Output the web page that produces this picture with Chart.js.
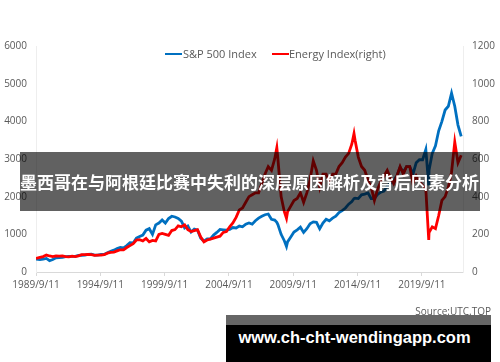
<!DOCTYPE html>
<html>
<head>
<meta charset="utf-8">
<script src="https://cdn.jsdelivr.net/npm/chart.js@4/dist/chart.umd.min.js"></script>
<style>
  body { margin: 0; background: #fff; }
  #wrap { position: relative; width: 500px; height: 362px; overflow: hidden; font-family: "Open Sans", sans-serif; }
  #chart { position: absolute; left: 0; top: 0; }
  .leg { position: absolute; top: 46px; font-size: 11px; color: #595959; white-space: nowrap; }
  .legline { position: absolute; top: 53px; width: 17px; height: 2px; }
  #banner { position: absolute; left: 20px; top: 152px; width: 460px; height: 59px; background: rgba(0,0,0,0.62);
            color: #fff; font: bold 17px "Noto Sans CJK SC", sans-serif; line-height: 59px; white-space: nowrap; }
  #source { position: absolute; right: 9px; top: 304px; font-size: 10px; color: #595959; }
  #mark { position: absolute; left: 226px; top: 315px; width: 265px; height: 47px; background: #000; border-top: 10px solid #666; box-sizing: border-box; }
  #mark span { position: absolute; left: -4px; width: 265px; top: 3px; text-align: center; color: #fff;
               font: bold 16.5px "Liberation Sans", Arial, sans-serif; }
</style>
</head>
<body>
<div id="wrap">
  <canvas id="chart" width="500" height="362"></canvas>
  <div class="legline" style="left:165px;background:#0070C0"></div>
  <div class="leg" style="left:183px">S&amp;P 500 Index</div>
  <div class="legline" style="left:272px;background:#FF0000"></div>
  <div class="leg" style="left:289px">Energy Index(right)</div>
  <div id="banner">墨西哥在与阿根廷比赛中失利的深层原因解析及背后因素分析</div>
  <div id="source">Source:UTC.TOP</div>
  <div id="mark"><span>www.ch-cht-wendingapp.com</span></div>
</div>
<script>
const dates = ['1989-09-11',
  '1990-01','1990-04','1990-07','1990-10', '1991-01','1991-04','1991-07','1991-10',
  '1992-01','1992-04','1992-07','1992-10', '1993-01','1993-04','1993-07','1993-10',
  '1994-01','1994-04','1994-07','1994-10', '1995-01','1995-04','1995-07','1995-10',
  '1996-01','1996-04','1996-07','1996-10', '1997-01','1997-04','1997-07','1997-10',
  '1998-01','1998-04','1998-07','1998-10', '1999-01','1999-04','1999-07','1999-10',
  '2000-01','2000-04','2000-07','2000-10', '2001-01','2001-04','2001-07','2001-10',
  '2002-01','2002-04','2002-07','2002-10', '2003-01','2003-04','2003-07','2003-10',
  '2004-01','2004-04','2004-07','2004-10', '2005-01','2005-04','2005-07','2005-10',
  '2006-01','2006-04','2006-07','2006-10', '2007-01','2007-04','2007-07','2007-10',
  '2008-01','2008-04','2008-06','2008-07','2008-10', '2009-01','2009-03','2009-04','2009-07','2009-10',
  '2010-01','2010-04','2010-07','2010-10', '2011-01','2011-04','2011-07','2011-10',
  '2012-01','2012-04','2012-07','2012-10', '2013-01','2013-04','2013-07','2013-10',
  '2014-01','2014-04','2014-06','2014-07','2014-10', '2015-01','2015-04','2015-07','2015-10',
  '2016-01','2016-04','2016-07','2016-10', '2017-01','2017-04','2017-07','2017-10',
  '2018-01','2018-04','2018-07','2018-10', '2019-01','2019-04','2019-07','2019-10',
  '2020-01','2020-03-23','2020-04','2020-07','2020-10', '2021-01','2021-04','2021-07','2021-10',
  '2022-01','2022-04','2022-07','2022-10'];

const spx = [340,
  330,340,360,300,  330,375,385,390,  410,415,415,415,  440,445,450,465,
  475,450,450,470,  470,510,550,580,  620,650,640,700,  780,770,900,940,
  980,1110,1150,1000,  1250,1300,1380,1300,  1420,1480,1460,1420,  1350,1170,1220,1060,
  1140,1110,900,820,  880,880,980,1050,  1130,1120,1110,1130,  1180,1170,1220,1200,
  1270,1300,1270,1360,  1430,1480,1520,1540,  1400,1380,1320,1260,1000,  830,680,800,930,1060,
  1120,1190,1050,1150,  1280,1330,1320,1150,  1300,1400,1360,1430,  1480,1580,1630,1700,
  1800,1870,1950,1960,1950,  2050,2070,2100,1950,  1950,2060,2120,2150,  2280,2360,2440,2550,
  2780,2650,2800,2800,  2600,2900,2980,2980,  3250,2300,2700,3150,3350,  3750,4000,4300,4400,
  4750,4400,3900,3600];

const energy = [72,
  78,82,90,85,  82,85,84,86,  82,80,84,82,  86,92,92,94,
  92,88,90,90,  92,100,104,106,  112,118,118,130,  140,150,170,172,
  165,178,160,168,  165,200,205,200,  195,220,225,245,  240,250,225,215,
  220,225,185,160,  170,175,180,185,  190,210,215,240,  260,290,330,340,
  370,400,410,420,  420,470,520,560,  540,600,660,600,400,  320,285,320,350,380,
  390,420,370,420,  490,590,540,450,  520,520,480,520,  520,560,580,610,
  630,680,735,700,610,  560,540,490,450,  380,440,480,510,  540,500,470,510,
  560,520,560,560,  470,510,480,460,  440,170,210,240,230,  300,380,400,450,
  530,690,580,620];

const tickYears = [1989, 1994, 1999, 2004, 2009, 2014, 2019];

function toYear(d) {
  const p = d.split('-').map(Number);
  return p[0] + (p[1] - 1) / 12 + ((p[2] || 1) - 1) / 365;
}
const tickOffset = 8 / 12 + 10 / 365;
const tickFont = {family: 'Open Sans', size: 10};

new Chart(document.getElementById('chart'), {
  type: 'line',
  data: {
    datasets: [{
      label: 'S&P 500 Index',
      data: dates.map((d, i) => ({x: toYear(d), y: spx[i]})),
      borderColor: '#0070C0',
      borderWidth: 2.8,
      pointRadius: 0,
      yAxisID: 'y',
      order: 1
    }, {
      label: 'Energy Index(right)',
      data: dates.map((d, i) => ({x: toYear(d), y: energy[i]})),
      borderColor: '#FF0000',
      borderWidth: 2.8,
      pointRadius: 0,
      yAxisID: 'y1',
      order: 0
    }]
  },
  options: {
    responsive: false,
    animation: false,
    layout: {padding: {top: 46, left: 0, right: 0, bottom: 0}},
    plugins: {legend: {display: false}, tooltip: {enabled: false}},
    scales: {
      x: {
        type: 'linear',
        min: tickYears[0] + tickOffset,
        max: 2022.89,
        afterBuildTicks: s => { s.ticks = tickYears.map(y => ({value: y + tickOffset})) },
        afterFit: s => { s.height = 90 },
        grid: {drawOnChartArea: false, tickLength: 4, color: '#d9d9d9'},
        border: {color: '#d9d9d9'},
        ticks: {
          autoSkip: false, maxRotation: 0, padding: 3,
          color: '#595959', font: tickFont,
          callback: (v, i) => tickYears[i] + '/9/11'
        }
      },
      y: {
        position: 'left',
        min: 0, max: 6000,
        afterFit: s => { s.width = 36 },
        grid: {drawOnChartArea: false, drawTicks: false},
        border: {color: '#eeeeee'},
        ticks: {stepSize: 1000, padding: 9, color: '#595959', font: tickFont, callback: v => String(v)}
      },
      y1: {
        position: 'right',
        min: 0, max: 1200,
        afterFit: s => { s.width = 37 },
        grid: {drawOnChartArea: false, drawTicks: false},
        border: {color: '#eeeeee'},
        ticks: {stepSize: 200, padding: 9, color: '#595959', font: tickFont, callback: v => String(v)}
      }
    }
  }
});
</script>
</body>
</html>
